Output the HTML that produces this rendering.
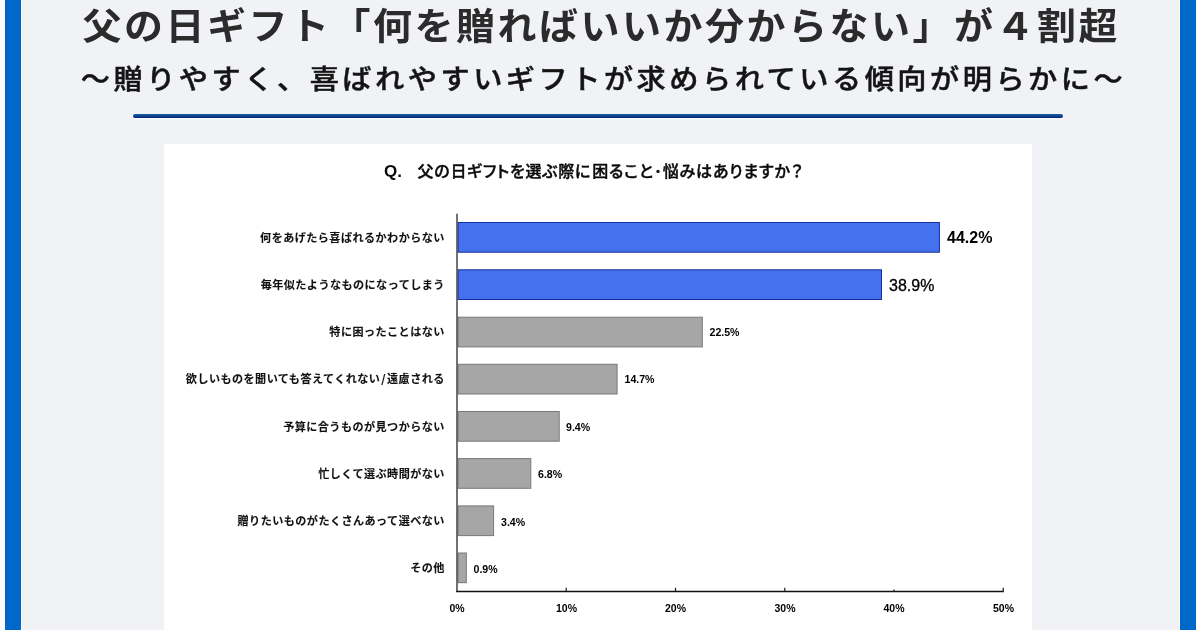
<!DOCTYPE html>
<html lang="ja">
<head>
<meta charset="utf-8">
<title>父の日ギフト調査</title>
<style>
  html, body { margin: 0; padding: 0; }
  body {
    width: 1200px; height: 630px; overflow: hidden; position: relative;
    background: #ffffff;
    font-family: "Liberation Sans", "Noto Sans CJK JP", sans-serif;
  }
  .frame { position: absolute; left: 5px; top: 0; width: 1191px; height: 630px; background: #0068c8; }
  .inner { position: absolute; left: 21px; top: 0; width: 1159px; height: 630px; background: #ffffff; }
  .bg { position: absolute; left: 22px; top: 0; width: 1157px; height: 630px; background: #f0f2f6; }
  .t1 {
    position: absolute; left: 0; top: -0.5px; width: 1200px; text-align: center;
    font-family: "Liberation Sans", "Noto Sans CJK JP", sans-serif;
    font-weight: 700; font-size: 39px; line-height: 56px; letter-spacing: 2.5px;
    color: #2b2b2b; white-space: nowrap; text-indent: 2.5px;
    transform: scaleY(0.955); transform-origin: 50% 50%;
  }
  .t2 {
    position: absolute; left: 0; top: 55.6px; width: 1200px; text-align: center;
    font-family: "Liberation Sans", "Noto Sans CJK JP", sans-serif;
    font-weight: 500; font-size: 29.2px; line-height: 48px; letter-spacing: 3.51px;
    color: #141414; white-space: nowrap; text-indent: 7px;
    -webkit-text-stroke: 0.5px #141414;
    transform: scaleY(0.93); transform-origin: 50% 50%;
  }
  .rule { position: absolute; left: 133px; top: 114px; width: 930px; height: 4px; border-radius: 2px; background: linear-gradient(180deg, #17609f 0%, #0f4a94 45%, #0a1f6e 100%); box-shadow: 0 1.5px 2px rgba(255,255,255,0.55); }
  .panel { position: absolute; left: 164px; top: 144px; width: 868px; height: 486px; background: #ffffff; }
  .q {
    position: absolute; left: 384px; top: 159.5px;
    font-family: "Liberation Sans", "Noto Sans CJK JP", sans-serif;
    font-feature-settings: "palt" 1;
    font-weight: 500; font-size: 16px; line-height: 24px; color: #0a0a0a; white-space: nowrap;
    letter-spacing: 0.75px; -webkit-text-stroke: 0.4px #0a0a0a;
  }
  .q .q2 { margin-left: 1px; letter-spacing: 0.85px; }
  .q .q3 { margin-left: 0.5px; }
  .q .ql { font-family: "Liberation Sans", sans-serif; font-weight: 700; font-size: 17px; margin-right: 15.5px; letter-spacing: 0; -webkit-text-stroke: 0; }
  .lab {
    position: absolute; right: 755.2px; width: 400px; text-align: right;
    font-family: "Liberation Sans", "Noto Sans CJK JP", sans-serif;
    font-weight: 700; font-size: 11.1px; line-height: 16px; color: #111111; white-space: nowrap;
    letter-spacing: 0.45px; -webkit-text-stroke: 0.1px #111111;
  }
  .lab .sl { font-family: "Noto Sans CJK JP", sans-serif; margin: 0 1px; }
  .chart { position: absolute; left: 0; top: 0; }
  .chart rect.b { fill: #4472ee; stroke: #14309e; stroke-width: 1; }
  .chart rect.g { fill: #a6a6a6; stroke: #787878; stroke-width: 1; }
  .chart .ax { stroke: #262626; stroke-width: 1.3; }
  .chart .xa { stroke: #111111; stroke-width: 1.6; }
  .chart .tk { stroke: #1a1a1a; stroke-width: 1.2; }
  .val {
    position: absolute; font-family: "Liberation Sans", sans-serif; color: #000000;
    white-space: nowrap; line-height: 16px;
  }
  .val.big { font-size: 16px; }
  .val.med { -webkit-text-stroke: 0.3px #000000; }
  .val.sm { font-size: 10.6px; font-weight: 700; }
  .tl {
    position: absolute; top: 600px; width: 60px; margin-left: -30px; text-align: center;
    font-family: "Liberation Sans", sans-serif; font-weight: 700; font-size: 10.5px; line-height: 16px; color: #000000;
  }
</style>
</head>
<body>
<div class="frame"></div>
<div class="inner"></div>
<div class="bg"></div>

<div class="t1">父の日ギフト「何を贈ればいいか分からない」が４割超</div>
<div class="t2">～贈りやすく、喜ばれやすいギフトが求められている傾向が明らかに～</div>
<div class="rule"></div>

<div class="panel"></div>
<div class="q"><span class="ql">Q.</span>父の日ギフトを選ぶ際に<span class="q2">困ること･悩みはありますか</span><span class="q3">？</span></div>


<svg class="chart" width="1200" height="630" viewBox="0 0 1200 630">
  <rect class="b" x="458.2" y="222.5" width="481.2" height="29.7"/>
  <rect class="b" x="458.2" y="269.8" width="423.3" height="29.7"/>
  <rect class="g" x="458.2" y="317.2" width="244.1" height="29.7"/>
  <rect class="g" x="458.2" y="364.3" width="158.9" height="29.7"/>
  <rect class="g" x="458.2" y="411.5" width="101.0" height="29.7"/>
  <rect class="g" x="458.2" y="458.6" width="72.6" height="29.7"/>
  <rect class="g" x="458.2" y="505.9" width="35.4" height="29.7"/>
  <rect class="g" x="458.2" y="553.0" width="8.1" height="29.7"/>
  <line class="ax" x1="457" y1="213.8" x2="457" y2="592"/>
  <line class="ax xa" x1="456.3" y1="591.5" x2="1003.8" y2="591.5"/>
  <line class="tk" x1="566.2" y1="587.8" x2="566.2" y2="591.5"/>
  <line class="tk" x1="675.5" y1="587.8" x2="675.5" y2="591.5"/>
  <line class="tk" x1="784.8" y1="587.8" x2="784.8" y2="591.5"/>
  <line class="tk" x1="894.0" y1="589.4" x2="894.0" y2="591.5"/>
  <line class="tk" x1="1003.2" y1="587.8" x2="1003.2" y2="591.5"/>
</svg>

<div class="lab" style="top:230px">何をあげたら喜ばれるかわからない</div>
<div class="lab" style="top:277px">毎年似たようなものになってしまう</div>
<div class="lab" style="top:324px">特に困ったことはない</div>
<div class="lab" style="top:370px">欲しいものを聞いても答えてくれない<span class="sl">/</span>遠慮される</div>
<div class="lab" style="top:419px">予算に合うものが見つからない</div>
<div class="lab" style="top:466px">忙しくて選ぶ時間がない</div>
<div class="lab" style="top:513px">贈りたいものがたくさんあって選べない</div>
<div class="lab" style="top:560px">その他</div>


<div class="val big" style="left:947px;top:230px;font-weight:700">44.2%</div>
<div class="val big med" style="left:889px;top:278px">38.9%</div>
<div class="val sm" style="left:709.5px;top:324px">22.5%</div>
<div class="val sm" style="left:624.5px;top:371px">14.7%</div>
<div class="val sm" style="left:566px;top:419px">9.4%</div>
<div class="val sm" style="left:538px;top:466px">6.8%</div>
<div class="val sm" style="left:501px;top:514px">3.4%</div>
<div class="val sm" style="left:473.5px;top:561px">0.9%</div>


<div class="tl" style="left:457px">0%</div>
<div class="tl" style="left:566.5px">10%</div>
<div class="tl" style="left:675.5px">20%</div>
<div class="tl" style="left:785px">30%</div>
<div class="tl" style="left:894px">40%</div>
<div class="tl" style="left:1003.5px">50%</div>
</body>
</html>
